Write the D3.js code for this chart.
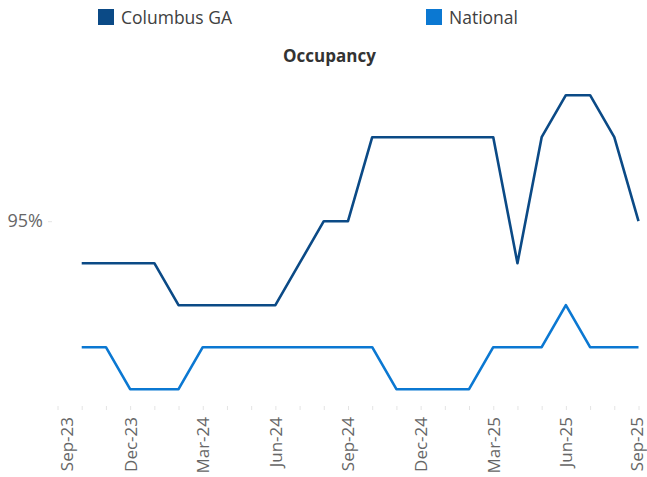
<!DOCTYPE html>
<html>
<head>
<meta charset="utf-8">
<script src="https://cdn.jsdelivr.net/npm/d3@7"></script>
<style>
  body { margin: 0; background: #fff; }
  svg { font-family: "Open Sans", sans-serif; }
</style>
</head>
<body>
<div class="chart"></div>
<script>
// data
const months = ["Sep-23","Oct-23","Nov-23","Dec-23","Jan-24","Feb-24","Mar-24","Apr-24","May-24",
  "Jun-24","Jul-24","Aug-24","Sep-24","Oct-24","Nov-24","Dec-24","Jan-25","Feb-25","Mar-25",
  "Apr-25","May-25","Jun-25","Jul-25","Aug-25","Sep-25"];
const columbus = [null,94,94,94,94,93,93,93,93,93,94,95,95,97,97,97,97,97,97,94,97,98,98,97,95];
const national = [null,92,92,91,91,91,92,92,92,92,92,92,92,92,91,91,91,91,92,92,92,93,92,92,92];
const seriesNames = ["Columbus GA", "National"];
const yTicks = [90, 95, 100];

const width = 647, height = 477;
const colors = ["#0b4a86", "#0b78d2"];

var svg = d3.select(".chart")
    .append("svg")
    .attr("width", width)
    .attr("height", height);

var x = d3.scalePoint()
    .domain(months)
    .range([57.5, 638.5]);

var y = d3.scaleLinear()
    .domain([90.6, 98.6])
    .range([406, 70]);

// y axis, only 95% falls inside the range
var yAxis = svg.append("g")
    .attr("transform", "translate(52,0)")
    .call(d3.axisLeft(y)
        .tickValues(yTicks.filter(function(d) { return d >= y.domain()[0] && d <= y.domain()[1]; }))
        .tickSize(4)
        .tickPadding(5)
        .tickFormat(function(d) { return d + "%"; }));
yAxis.select(".domain").remove();
yAxis.selectAll("line").attr("stroke", "#e4e4e4");
yAxis.selectAll("text")
    .attr("fill", "#666")
    .style("font-size", "18px")
    .style("font-family", "Open Sans");

// x axis
var last = months.length - 1;
var xAxis = svg.append("g")
    .attr("transform", "translate(0,406)")
    .call(d3.axisBottom(x)
        .tickSize(4)
        .tickFormat(function(d, i) { return i % 3 == 0 ? d : ""; }));
xAxis.select(".domain").remove();
xAxis.selectAll("line").attr("stroke", "#e4e4e4");
xAxis.selectAll("text")
    .attr("fill", "#666")
    .style("font-size", "17px")
    .style("font-family", "Open Sans")
    .attr("text-anchor", "end")
    .attr("transform", "rotate(-90)")
    .attr("x", -11)
    .attr("y", function(d, i) { return i == 0 ? 9 : (i == last ? -1.5 : 0); })
    .attr("dy", "0.35em");

// lines
var line = d3.line()
    .defined(function(d) { return d.v != null; })
    .x(function(d) { return x(d.m); })
    .y(function(d) { return y(d.v); });

[columbus, national].forEach(function(vals, k) {
    var data = months.map(function(m, i) { return {m: m, v: vals[i]}; });
    svg.append("path")
        .datum(data)
        .attr("fill", "none")
        .attr("stroke", colors[k])
        .attr("stroke-width", 2.6)
        .attr("stroke-linejoin", "round")
        .attr("d", line);
});

// title
svg.append("text")
    .attr("x", 329.5)
    .attr("y", 62)
    .attr("text-anchor", "middle")
    .attr("fill", "#333")
    .style("font-size", "17px")
    .style("font-weight", "bold")
    .text("Occupancy");

// legend
var legX = [98, 426];
seriesNames.forEach(function(name, k) {
    svg.append("rect")
        .attr("x", legX[k])
        .attr("y", 9)
        .attr("width", 16)
        .attr("height", 16)
        .attr("fill", colors[k]);
    svg.append("text")
        .attr("x", legX[k] + 23)
        .attr("y", 24)
        .attr("fill", "#404040")
        .style("font-size", "17.5px")
        .text(name);
});
</script>
</body>
</html>
